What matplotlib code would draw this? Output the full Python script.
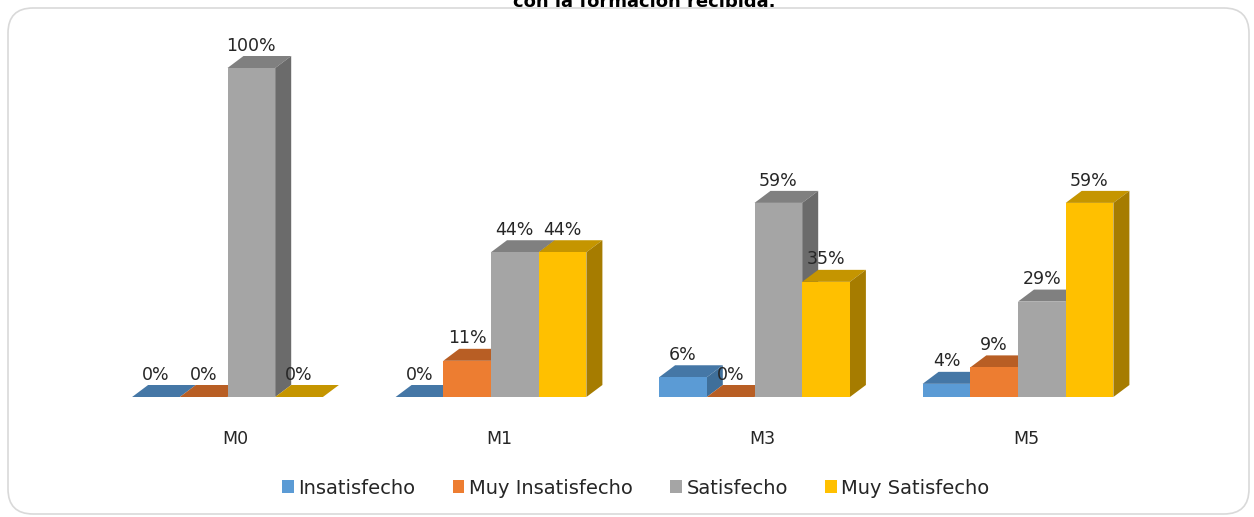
import matplotlib.pyplot as plt
from matplotlib.patches import Polygon, FancyBboxPatch

# data
categories = ["M0", "M1", "M3", "M5"]
series = ["Insatisfecho", "Muy Insatisfecho", "Satisfecho", "Muy Satisfecho"]
insatisfecho = [0, 0, 6, 4]
muy_insatisfecho = [0, 11, 0, 9]
satisfecho = [100, 44, 59, 29]
muy_satisfecho = [0, 44, 35, 59]
values = [insatisfecho, muy_insatisfecho, satisfecho, muy_satisfecho]

front = ["#5B9BD5", "#ED7D31", "#A5A5A5", "#FFC000"]
side = ["#3F6F9A", "#A9561F", "#6B6B6B", "#A67C00"]
top = ["#4577A6", "#B85E24", "#808080", "#C59500"]

W, H = 1254, 517
fig = plt.figure(figsize=(W / 100, H / 100), dpi=100)
plt.rcParams['font.family'] = ['DejaVu Sans']

# chart border
border = FancyBboxPatch((8 / W, 3 / H), 1241 / W, 506 / H,
                        boxstyle="round,pad=0,rounding_size=0.02",
                        transform=fig.transFigure, fc="none",
                        ec="#D9D9D9", lw=1.2, mutation_aspect=W / H, zorder=-1)
fig.patches.append(border)

# title (only its lower part shows, as in the source)
fig.text(0.514, 1 - 7 / H, "con la formación recibida.", ha="center",
         va="baseline", fontsize=13, fontweight="bold")

# axes: group i -> pixel 227.5 + 263.5*i, value 0 -> 397, 100 -> 68
gap = 263.5
x0 = 227.5 - 0.5 * gap
ax = fig.add_axes([x0 / W, (H - 397) / H, 4 * gap / W, 329 / H])
ax.set_xlim(-0.5, 3.5)
ax.set_ylim(0, 100)
ax.axis("off")

px_x = gap          # pixels per x unit
px_y = 3.29         # pixels per y unit
w = 47.7 / px_x
dx = 16 / px_x
dy = 12 / px_y

for i in range(len(categories)):
    for j in range(len(series)):
        h = values[j][i]
        xl = i - 2 * w + j * w
        xr = xl + w
        ax.add_patch(Polygon([(xl, h), (xr, h), (xr + dx, h + dy), (xl + dx, h + dy)],
                             closed=True, fc=top[j], ec="none", clip_on=False))
        ax.add_patch(Polygon([(xr, 0), (xr + dx, dy), (xr + dx, h + dy), (xr, h)],
                             closed=True, fc=side[j], ec="none", clip_on=False))
        ax.add_patch(Polygon([(xl, 0), (xr, 0), (xr, h), (xl, h)],
                             closed=True, fc=front[j], ec="none", clip_on=False))
        ax.annotate(f"{h}%", (xl + w / 2, h + dy), xytext=(0, 1),
                    textcoords="offset points", ha="center", va="bottom",
                    fontsize=12.5, color="#262626", annotation_clip=False)
    ax.annotate(categories[i], (i + dx / 2, 0), xytext=(0, -30),
                textcoords="offset points", ha="center", va="center",
                fontsize=12.5, color="#262626", annotation_clip=False)

handles = [plt.Rectangle((0, 0), 1, 1, fc=c, ec="none") for c in front]
fig.legend(handles, series, loc="center", bbox_to_anchor=(0.507, 1 - 488 / H),
           ncol=4, frameon=False, fontsize=14, handlelength=0.6,
           handleheight=0.6, handletextpad=0.25, columnspacing=1.9,
           labelcolor="#262626")

fig.savefig("out.png", dpi=100)
